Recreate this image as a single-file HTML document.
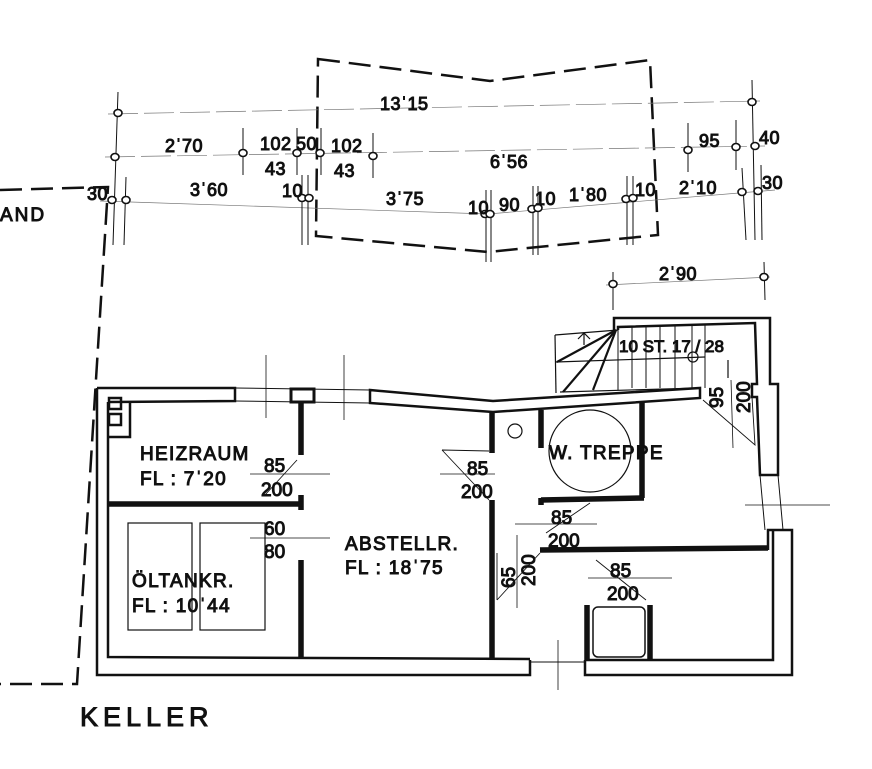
<!DOCTYPE html>
<html><head><meta charset="utf-8"><style>
html,body{margin:0;padding:0;background:#fff;}
svg{display:block;}
text{font-family:"Liberation Sans","DejaVu Sans",sans-serif;fill:#111;}
</style></head><body>
<svg width="872" height="769" viewBox="0 0 872 769" xmlns="http://www.w3.org/2000/svg">
<g stroke="#111" fill="none">
<path d="M0 190 L108 187 L77 684 L0 684" stroke-width="2.5" stroke-dasharray="22,9"/>
<path d="M318 59 L490 81 L650 60 L658 235 L488 252 L316 236 Z" stroke-width="2.5" stroke-dasharray="22,9"/>
<g stroke-width="0.7" stroke="#777">
<line x1="108" y1="114" x2="760" y2="101" stroke-dasharray="30,6"/>
<line x1="105" y1="157" x2="765" y2="146" stroke-dasharray="30,6"/>
<line x1="100" y1="201" x2="488" y2="214"/>
<line x1="488" y1="214" x2="775" y2="190"/>
<line x1="606" y1="285" x2="770" y2="277"/>
</g>
<g stroke-width="1">
<line x1="118" y1="92" x2="113" y2="245"/>
<line x1="126" y1="177" x2="124" y2="245"/>
<line x1="243" y1="128" x2="243" y2="175"/>
<line x1="297" y1="128" x2="297" y2="175"/>
<line x1="321" y1="128" x2="321" y2="175"/>
<line x1="373" y1="133" x2="373" y2="178"/>
<line x1="302" y1="175" x2="302" y2="245"/>
<line x1="308" y1="175" x2="308" y2="245"/>
<line x1="486" y1="190" x2="486" y2="262"/>
<line x1="491" y1="190" x2="491" y2="262"/>
<line x1="533" y1="186" x2="533" y2="255"/>
<line x1="538" y1="186" x2="538" y2="255"/>
<line x1="627" y1="176" x2="627" y2="245"/>
<line x1="633" y1="176" x2="633" y2="245"/>
<line x1="688" y1="123" x2="688" y2="172"/>
<line x1="736" y1="120" x2="736" y2="170"/>
<line x1="752" y1="80" x2="755" y2="240"/>
<line x1="742" y1="168" x2="746" y2="240"/>
<line x1="761" y1="165" x2="762" y2="240"/>
<line x1="613" y1="272" x2="613" y2="310"/>
<line x1="764" y1="262" x2="765" y2="300"/>
</g>
<g stroke-width="1.6" fill="#fff">
<ellipse cx="118" cy="113" rx="4" ry="3.5"/><ellipse cx="752" cy="102" rx="4" ry="3.5"/>
<ellipse cx="115" cy="157" rx="4" ry="3.5"/><ellipse cx="243" cy="153" rx="4" ry="3.5"/>
<ellipse cx="297" cy="153" rx="4" ry="3.5"/><ellipse cx="320" cy="153" rx="4" ry="3.5"/>
<ellipse cx="373" cy="156" rx="4" ry="3.5"/><ellipse cx="688" cy="150" rx="4" ry="3.5"/>
<ellipse cx="736" cy="147" rx="4" ry="3.5"/><ellipse cx="755" cy="146" rx="4" ry="3.5"/>
<ellipse cx="112" cy="200" rx="4" ry="3.5"/><ellipse cx="126" cy="200" rx="4" ry="3.5"/>
<ellipse cx="302" cy="198" rx="4" ry="3.5"/><ellipse cx="309" cy="198" rx="4" ry="3.5"/>
<ellipse cx="485" cy="214" rx="4" ry="3.5"/><ellipse cx="490" cy="214" rx="4" ry="3.5"/>
<ellipse cx="532" cy="209" rx="4" ry="3.5"/><ellipse cx="538" cy="208" rx="4" ry="3.5"/>
<ellipse cx="626" cy="199" rx="4" ry="3.5"/><ellipse cx="633" cy="198" rx="4" ry="3.5"/>
<ellipse cx="742" cy="192" rx="4" ry="3.5"/><ellipse cx="758" cy="191" rx="4" ry="3.5"/>
<ellipse cx="613" cy="284" rx="4" ry="3.5"/><ellipse cx="764" cy="277" rx="4" ry="3.5"/>
</g>

<g stroke-width="2.5">
<path d="M97 388 L235 388 L235 401 L108 402"/>
<path d="M97 388 L97 675 L530 675 L530 660"/>
<path d="M108 402 L108 657 L530 659"/>
<path d="M585 660 L585 675 L792 675 L792 530 L768 530 L768 550"/>
<path d="M585 660 L773 660 L773 530"/>
<line x1="235" y1="388" x2="370" y2="390" stroke-width="1"/>
<line x1="235" y1="401" x2="370" y2="403" stroke-width="1"/>
<rect x="291" y="389" width="23" height="13" stroke-width="3"/>
<path d="M370 390 L493 401 L700 388 L700 398 L493 412 L370 403 Z"/>
<path d="M614 330 L614 318 L770 318 L770 384 L778 384 L778 475 L760 475 L757 397 L752 397 L752 384 L757 384 L755 323 L618 327 L618 330"/>
<line x1="760" y1="475" x2="765" y2="530" stroke-width="1"/>
<line x1="778" y1="475" x2="783" y2="530" stroke-width="1"/>
<line x1="530" y1="662" x2="585" y2="662" stroke-width="1"/>
<rect x="109" y="398" width="12" height="11" stroke-width="2.5"/>
<rect x="109" y="414" width="12" height="11" stroke-width="2.5"/>
<path d="M108 437 L130 437 L130 403" stroke-width="2.5"/>
<rect x="128" y="523" width="64" height="107" stroke-width="1.2"/>
<rect x="200" y="523" width="65" height="107" stroke-width="1.2"/>
<rect x="593" y="607" width="52" height="50" rx="5" stroke-width="1.5"/>
</g>
<g stroke-width="5.5" stroke="#111">
<line x1="301" y1="402" x2="301" y2="455"/>
<line x1="301" y1="495" x2="301" y2="510"/>
<line x1="301" y1="560" x2="301" y2="657"/>
<line x1="108" y1="504" x2="303" y2="504"/>
<line x1="492" y1="412" x2="492" y2="453"/>
<line x1="492" y1="500" x2="492" y2="660"/>
<line x1="541" y1="410" x2="541" y2="448"/>
<line x1="642" y1="402" x2="642" y2="498"/>
<line x1="541" y1="500" x2="644" y2="498"/>
<line x1="540" y1="550" x2="768" y2="548"/>
<line x1="587" y1="605" x2="587" y2="660"/>
<line x1="650" y1="605" x2="650" y2="660"/>
<line x1="541" y1="498" x2="541" y2="505"/>
</g>
<g stroke-width="1.2">
<path d="M555 335 L618 330"/>
<line x1="555" y1="335" x2="556" y2="393"/>
<line x1="556" y1="362" x2="705" y2="357"/>
<line x1="560" y1="392" x2="700" y2="388"/>
<g stroke-width="1"><line x1="632" y1="327" x2="632" y2="388"/><line x1="646" y1="327" x2="646" y2="388"/><line x1="660" y1="326" x2="660" y2="388"/><line x1="675" y1="326" x2="675" y2="388"/><line x1="692" y1="325" x2="692" y2="388"/><line x1="705" y1="325" x2="705" y2="388"/><line x1="618" y1="330" x2="618" y2="390"/></g>
<g stroke-width="2.2"><line x1="616" y1="330" x2="557" y2="362"/><line x1="616" y1="330" x2="563" y2="392"/><line x1="616" y1="330" x2="593" y2="390"/></g>
<path d="M578 339 L584 333 L590 339 M584 333 L584 345"/>
<circle cx="693" cy="357" r="5"/>
<line x1="728" y1="360" x2="728" y2="378"/>
<circle cx="590" cy="451" r="41"/>
<circle cx="515" cy="431" r="7"/>
<path d="M265 495 L297 460" stroke-width="0.9"/>
<line x1="250" y1="474" x2="330" y2="474" stroke-width="0.8"/>
<line x1="250" y1="538" x2="330" y2="538" stroke-width="0.8"/>
<path d="M442 450 L489 451 M442 450 L489 500" stroke-width="0.9"/>
<line x1="440" y1="474" x2="495" y2="474" stroke-width="0.8"/>
<path d="M546 533 L590 503" stroke-width="0.9"/>
<line x1="515" y1="524" x2="597" y2="524" stroke-width="0.8"/>
<path d="M497 600 L497 553 M497 600 L540 553" stroke-width="0.9"/>
<line x1="517" y1="535" x2="517" y2="608" stroke-width="0.8"/>
<path d="M596 560 L646 600" stroke-width="0.9"/>
<line x1="588" y1="578" x2="672" y2="578" stroke-width="0.8"/>
<path d="M703 400 L755 445 L752 397" stroke-width="0.9"/>
<line x1="731" y1="380" x2="733" y2="448" stroke-width="0.8"/>
<line x1="266" y1="355" x2="266" y2="418" stroke-width="0.8"/>
<line x1="344" y1="355" x2="344" y2="420" stroke-width="0.8"/>
<line x1="745" y1="505" x2="830" y2="505" stroke-width="0.8"/>
<line x1="558" y1="640" x2="558" y2="690" stroke-width="0.8"/>
</g>
<g font-size="18" letter-spacing="0.5">
<text x="0" y="221" font-size="19" letter-spacing="2">AND</text>
<text x="380" y="110">13ˈ15</text>
<text x="165" y="152">2ˈ70</text>
<text x="260" y="150">102</text><text x="265" y="175">43</text>
<text x="296" y="150">50</text>
<text x="331" y="152">102</text><text x="334" y="177">43</text>
<text x="87" y="200">30</text>
<text x="190" y="196">3ˈ60</text>
<text x="282" y="197">10</text>
<text x="386" y="205">3ˈ75</text>
<text x="490" y="168">6ˈ56</text>
<text x="468" y="214">10</text>
<text x="499" y="211">90</text>
<text x="535" y="205">10</text>
<text x="569" y="201">1ˈ80</text>
<text x="635" y="196">10</text>
<text x="679" y="194">2ˈ10</text>
<text x="699" y="147">95</text>
<text x="759" y="144">40</text>
<text x="762" y="189">30</text>
<text x="659" y="280">2ˈ90</text>
<text x="619" y="352" font-size="17" letter-spacing="0">10 ST. 17 / 28</text>
<g font-size="19" letter-spacing="1.3">
<text x="140" y="460">HEIZRAUM</text>
<text x="140" y="485">FL : 7ˈ20</text>
<text x="345" y="550">ABSTELLR.</text>
<text x="345" y="574">FL : 18ˈ75</text>
<text x="132" y="587">ÖLTANKR.</text>
<text x="132" y="612">FL : 10ˈ44</text>
<text x="549" y="459">W. TREPPE</text>
</g>
<g font-size="19" letter-spacing="0">
<text x="264" y="472">85</text><text x="261" y="496">200</text>
<text x="264" y="535">60</text><text x="264" y="558">80</text>
<text x="467" y="475">85</text><text x="461" y="498">200</text>
<text x="551" y="524">85</text><text x="548" y="547">200</text>
<text x="610" y="577">85</text><text x="607" y="600">200</text>
<text transform="translate(515,588) rotate(-90)">65</text>
<text transform="translate(535,586) rotate(-90)">200</text>
<text transform="translate(723,408) rotate(-90)">95</text>
<text transform="translate(750,413) rotate(-90)">200</text>
</g>
<text x="80" y="726" font-size="27" letter-spacing="5">KELLER</text>
</g>
</svg>
</body></html>
